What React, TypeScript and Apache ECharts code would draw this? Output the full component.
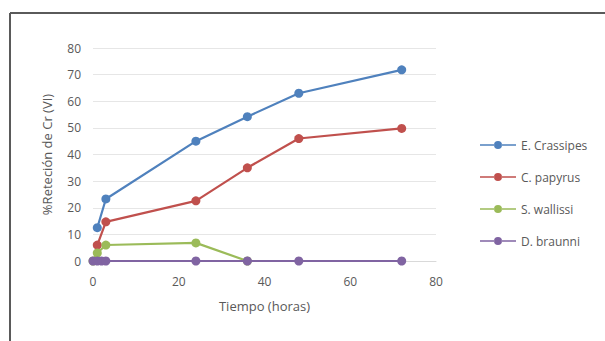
import React, { useEffect, useRef } from "react";
import * as echarts from "echarts";

const seriesNames = ["E. Crassipes", "C. papyrus", "S. wallissi", "D. braunni"];
const colors = ["#4f81bd", "#c0504d", "#9bbb59", "#8064a2"];
const crassipes: [number, number][] = [[1, 12.5], [3, 23.3], [24, 45], [36, 54.2], [48, 63], [72, 71.8]];
const papyrus: [number, number][] = [[1, 6], [3, 14.7], [24, 22.6], [36, 35], [48, 46], [72, 49.8]];
const wallissi: [number, number][] = [[0, 0], [1, 3], [3, 6], [24, 6.8], [36, 0]];
const braunni: [number, number][] = [[0, 0], [1, 0], [2, 0], [3, 0], [24, 0], [36, 0], [48, 0], [72, 0]];
const yTicks = [0, 10, 20, 30, 40, 50, 60, 70, 80];
const xTicks = [0, 20, 40, 60, 80];

const legendIcon = "path://M0,4.2H14.2V5.8H0Z M21.8,4.2H36V5.8H21.8Z M14,5a4,4 0 1,0 8,0a4,4 0 1,0 -8,0Z";

export default function App() {
  const ref = useRef<HTMLDivElement>(null);
  useEffect(() => {
    const chart = echarts.init(ref.current!, null, { renderer: "svg" });
    const data = [crassipes, papyrus, wallissi, braunni];
    chart.setOption({
      animation: false,
      backgroundColor: "#ffffff",
      textStyle: { fontFamily: "Open Sans" },
      graphic: [
        { type: "line", shape: { x1: 10, y1: 13, x2: 605, y2: 13 }, style: { stroke: "#5a5a5a", lineWidth: 2 } },
        { type: "line", shape: { x1: 10, y1: 13, x2: 10, y2: 341 }, style: { stroke: "#5a5a5a", lineWidth: 2 } },
      ],
      grid: { left: 93, right: 169, top: 48, bottom: 80 },
      legend: {
        orient: "vertical",
        left: 475,
        top: 134,
        itemWidth: 36,
        itemHeight: 10,
        itemGap: 20,
        textStyle: { color: "#595959", fontSize: 12, fontFamily: "Open Sans" },
        data: seriesNames.map((n) => ({ name: n, icon: legendIcon })),
      },
      xAxis: {
        type: "value",
        min: xTicks[0],
        max: xTicks[xTicks.length - 1],
        interval: 20,
        name: "Tiempo (horas)",
        nameLocation: "middle",
        nameGap: 38,
        nameTextStyle: { color: "#595959", fontSize: 13 },
        axisLine: { show: true, lineStyle: { color: "#d9d9d9" } },
        axisTick: { show: false },
        axisLabel: { color: "#595959", fontSize: 12, margin: 14 },
        splitLine: { show: false },
      },
      yAxis: {
        type: "value",
        min: yTicks[0],
        max: yTicks[yTicks.length - 1],
        interval: 10,
        name: "%Reteción de Cr (VI)",
        nameLocation: "middle",
        nameGap: 40,
        nameTextStyle: { color: "#595959", fontSize: 13 },
        axisLine: { show: false },
        axisTick: { show: false },
        axisLabel: { color: "#595959", fontSize: 12, margin: 12 },
        splitLine: { show: true, lineStyle: { color: "#e6e6e6" } },
      },
      series: seriesNames.map((n, i) => ({
        name: n,
        type: "line",
        data: data[i],
        symbol: "circle",
        symbolSize: 9,
        color: colors[i],
        lineStyle: { width: 2.2, color: colors[i] },
        itemStyle: { color: colors[i] },
        z: 2 + i,
      })),
    });
    return () => chart.dispose();
  }, []);
  return <div ref={ref} style={{ position: "absolute", left: 0, top: 0, width: 605, height: 341 }} />;
}
